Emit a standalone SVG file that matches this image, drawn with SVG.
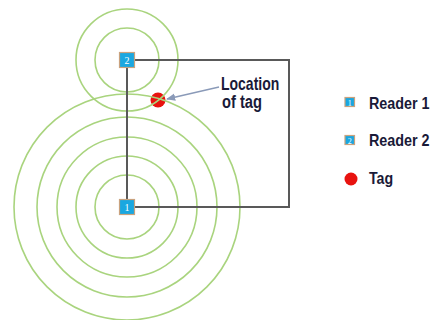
<svg xmlns="http://www.w3.org/2000/svg" width="433" height="320" viewBox="0 0 433 320">
<defs>
<style>
.ring{fill:none;stroke:#a9d47e;stroke-width:1.6}
.rd{fill:#1aa7e0;stroke:#c9a27e;stroke-width:1.2}
.num{font-family:"Liberation Serif",serif;font-size:10px;fill:#fff;text-anchor:middle}
.lbl{font-family:"Liberation Sans",Arial,sans-serif;font-size:16.5px;font-weight:bold;fill:#1a1a38}
.big{font-size:17.5px}
.conn{fill:none;stroke:#595959;stroke-width:2}
</style>
<marker id="ah" viewBox="0 0 10 10" refX="9" refY="5" markerWidth="7" markerHeight="7" orient="auto">
<path d="M0,1 L10,5 L0,9 Z" fill="#8a9ab8"/>
</marker>
</defs>
<rect width="433" height="320" fill="#fff"/>
<g id="tag">
<circle cx="158" cy="100" r="7.5" fill="#e8130f"/>
</g>
<g id="rings">
<circle class="ring" cx="127" cy="207" r="113"/>
<circle class="ring" cx="127" cy="207" r="90"/>
<circle class="ring" cx="127" cy="207" r="70"/>
<circle class="ring" cx="127" cy="207" r="51"/>
<circle class="ring" cx="127" cy="207" r="32"/>
<circle class="ring" cx="127" cy="60" r="51"/>
<circle class="ring" cx="127" cy="60" r="32"/>
</g>
<g id="connectors">
<path class="conn" d="M127,67 L127,200"/>
<path class="conn" d="M135,60 L289,60 L289,207 L135,207"/>
<path d="M219,87 L167,99" fill="none" stroke="#8a9ab8" stroke-width="1.3" marker-end="url(#ah)"/>
</g>
<g id="reader2">
<rect class="rd" x="119.5" y="52.5" width="15" height="15"/>
<text class="num" x="127" y="64">2</text>
</g>
<g id="reader1">
<rect class="rd" x="119.5" y="199.5" width="15" height="15"/>
<text class="num" x="127" y="211">1</text>
</g>
<g id="label">
<text class="lbl big" transform="translate(221,90) scale(0.8,1)">Location</text>
<text class="lbl big" transform="translate(222,108) scale(0.84,1)">of tag</text>
</g>
<g id="legend">
<rect class="rd" x="345" y="97.5" width="9.5" height="9"/>
<text class="num" x="349.7" y="105.5" style="font-size:8px">1</text>
<text class="lbl" transform="translate(369,108.5) scale(0.87,1)">Reader 1</text>
<rect class="rd" x="345" y="135.5" width="9.5" height="9"/>
<text class="num" x="349.7" y="143.5" style="font-size:8px">2</text>
<text class="lbl" transform="translate(369,145.5) scale(0.87,1)">Reader 2</text>
<circle cx="351" cy="179" r="6.5" fill="#e8130f"/>
<text class="lbl" transform="translate(369,184) scale(0.86,1)">Tag</text>
</g>
</svg>
